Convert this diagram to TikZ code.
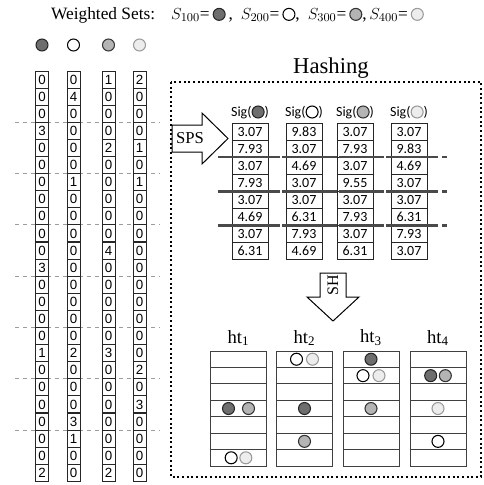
\documentclass[tikz,border=0pt]{standalone}
\usepackage{fontspec}
\setmainfont{Liberation Serif}
\newfontfamily\cellfont{Liberation Sans}
\newfontfamily\sigfont{Carlito}
\usepackage{tikz}
\usetikzlibrary{positioning}
\definecolor{DotDark}  {HTML}{6E6E6E}
\definecolor{DotMid}   {HTML}{B4B4B4}
\definecolor{DotLight} {HTML}{EDEDED}
\definecolor{RimGrey}  {HTML}{9A9A9A}
\definecolor{LineGrey} {HTML}{4A4A4A}
\definecolor{DashGrey} {HTML}{9C9C9C}

\tikzset{
  setdot/.style={circle, inner sep=0pt, minimum size=9pt, line width=0.8pt},
  dotdk/.style={setdot, draw=black!85, fill=DotDark},
  dotwh/.style={setdot, draw=black, fill=white},
  dotmd/.style={setdot, draw=black!80, fill=DotMid},
  dotlt/.style={setdot, draw=RimGrey, fill=DotLight},
  wcell/.style={draw=black!85, fill=white, line width=0.75pt, inner sep=0pt,
                minimum width=9.75pt, minimum height=12.8pt,
                font=\cellfont\fontsize{10}{10}\selectfont},
  sigcell/.style={draw=black!85, fill=white, line width=0.75pt, inner sep=0pt,
                  minimum width=27pt, minimum height=12.8pt,
                  font=\sigfont\fontsize{10.5}{10.5}\selectfont},
  slot/.style={draw=black!75, fill=white, line width=0.75pt, inner sep=0pt,
               minimum width=42pt, minimum height=12.3pt},
  gridline/.style={DashGrey, dashed, line width=0.7pt},
  sepline/.style={LineGrey, line width=1.8pt},
  blockarrow/.style={draw=black, fill=white, line width=0.75pt, line join=miter}
}
\newcommand{\sdot}[1]{\tikz[baseline=-0.6ex]\node[#1]{};}

\begin{document}
\begin{tikzpicture}[x=0.75pt, y=-0.75pt]
  \useasboundingbox (0,0) rectangle (483,485);
  % Legend of the weighted sets
  \node[font=\fontsize{13}{13}\selectfont] (legend) at (237.5,15)
    {Weighted Sets:\hspace{12pt}$S_{100}$=\,\sdot{dotdk}\,,\hspace{6pt}$S_{200}$=\,\sdot{dotwh},\hspace{6pt}$S_{300}$=\,\sdot{dotmd},\hspace{2pt}$S_{400}$=\,\sdot{dotlt}};

  % Left: the four weighted sets as vectors
  \foreach \k in {1,...,7}
    \draw[gridline] (15,{71+51.3*\k}) -- (160,{71+51.3*\k});
  \foreach \c/\cx/\dot/\vals in {
      1/42/dotdk/{0,0,0,3,0,0,0,0,0,0,0,3,0,0,0,0,1,0,0,0,0,0,0,2},
      2/73.5/dotwh/{0,4,0,0,0,0,1,0,0,0,0,0,0,0,0,0,2,0,0,0,3,1,0,0},
      3/108.5/dotmd/{1,0,0,0,2,0,0,0,0,0,4,0,0,0,0,0,3,0,0,0,0,0,0,2},
      4/139.5/dotlt/{2,0,0,0,1,0,1,0,0,0,0,0,0,0,0,0,0,2,0,3,0,0,0,0}} {
    \node[\dot] (s\c) at (\cx,45) {};
    \foreach \v [count=\r] in \vals
      \node[wcell] (v\c-\r) at (\cx,{71+17.1*(\r-0.5)}) {\v};
  }

  % Hashing frame
  \node[font=\fontsize{17}{17}\selectfont] (hashing) at (331,68) {Hashing};
  \draw[line width=1.5pt, dotted] (171,82) rectangle (481,477);

  % SPS step
  \draw[blockarrow] (172,125) -- (202,125) -- (202,113) -- (228,138.5)
    -- (202,164) -- (202,152) -- (172,152) -- cycle;
  \node[font=\fontsize{12.5}{12.5}\selectfont] (sps) at (190,138.5) {SPS};

  % Signatures
  \foreach \c/\cx/\dot/\vals in {
      1/250/dotdk/{3.07,7.93,3.07,7.93,3.07,4.69,3.07,6.31},
      2/304/dotwh/{9.83,3.07,4.69,3.07,3.07,6.31,7.93,4.69},
      3/355/dotmd/{3.07,7.93,3.07,9.55,3.07,7.93,3.07,6.31},
      4/409/dotlt/{3.07,9.83,4.69,3.07,3.07,6.31,7.93,3.07}} {
    \node[font=\sigfont\fontsize{10.5}{10.5}\selectfont] (sig\c) at (\cx,112)
      {Sig(\sdot{\dot})};
    \foreach \v [count=\r] in \vals
      \node[sigcell] (g\c-\r) at (\cx,{123+17.1*(\r-0.5)}) {\v};
  }
  \foreach \y in {157.2,191.4,225.6}
    \foreach \a/\b in {218/280,282/337,339/384,386/438,442/447}
      \draw[sepline] (\a,\y) -- (\b,\y);

  % SH step
  \draw[blockarrow] (320,273) -- (346,273) -- (346,297) -- (359,297)
    -- (333,321) -- (307,297) -- (320,297) -- cycle;
  \node[rotate=90, font=\fontsize{12}{12}\selectfont] (sh) at (333,285) {SH};

  % Hash tables
  \foreach \t/\tx in {1/238.5,2/304.5,3/371,4/438} {
    \node[font=\fontsize{14}{14}\selectfont] (ht\t) at (\tx,338) {ht\textsubscript{\t}};
    \foreach \r in {1,...,7}
      \node[slot] (t\t-\r) at (\tx,{351+16.43*(\r-0.5)}) {};
  }
  \node[dotdk] at ([xshift=-7.5pt]t1-4.center) {};
  \node[dotmd] at ([xshift=7.5pt]t1-4.center) {};
  \node[dotwh] at ([xshift=-5.5pt]t1-7.center) {};
  \node[dotlt] at ([xshift=5.5pt]t1-7.center) {};
  \node[dotwh] at ([xshift=-6pt]t2-1.center) {};
  \node[dotlt] at ([xshift=6pt]t2-1.center) {};
  \node[dotdk] at (t2-4.center) {};
  \node[dotmd] at (t2-6.center) {};
  \node[dotdk] at (t3-1.center) {};
  \node[dotwh] at ([xshift=-6pt]t3-2.center) {};
  \node[dotlt] at ([xshift=6pt]t3-2.center) {};
  \node[dotmd] at (t3-4.center) {};
  \node[dotdk] at ([xshift=-5.5pt]t4-2.center) {};
  \node[dotmd] at ([xshift=5.5pt]t4-2.center) {};
  \node[dotlt] at (t4-4.center) {};
  \node[dotwh] at (t4-6.center) {};
\end{tikzpicture}
\end{document}
